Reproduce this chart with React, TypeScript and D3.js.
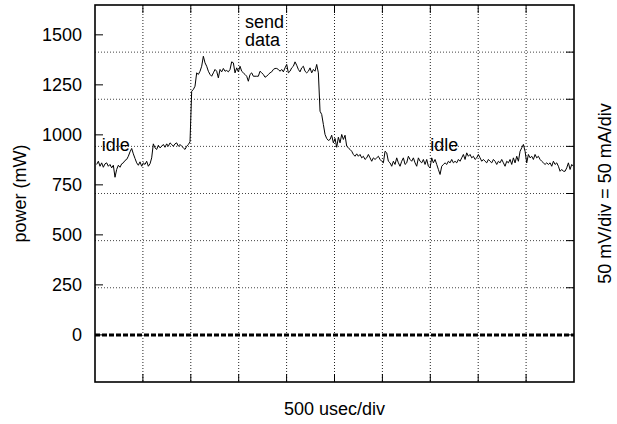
import React from 'react';
import * as d3 from 'd3';

// ---- data ----
const SAMPLE_PERIOD_US = 17.4;
const powerMw: number[] = [
  852, 868, 843, 860, 838, 855, 860, 843, 852, 835,
  848, 788, 827, 848, 838, 855, 860, 872, 877, 893,
  915, 932, 905, 882, 860, 848, 865, 843, 860, 852,
  868, 843, 855, 885, 955, 935, 927, 948, 935, 943,
  952, 938, 955, 943, 960, 952, 943, 955, 960, 943,
  952, 943, 935, 927, 943, 952, 965, 1218, 1227, 1243,
  1310, 1302, 1318, 1343, 1393, 1360, 1343, 1318, 1302, 1293,
  1310,
  1327, 1318, 1285, 1327, 1315, 1332, 1318, 1322, 1315, 1327,
  1365, 1360, 1310, 1335, 1315, 1343, 1318, 1310, 1302, 1293,
  1268, 1302, 1310, 1293, 1293, 1293, 1293, 1318, 1310, 1302,
  1288, 1293, 1302, 1310, 1315, 1327, 1332, 1332, 1327, 1318,
  1327, 1315, 1335, 1352, 1310, 1318, 1335, 1343, 1365, 1348,
  1327, 1315, 1335, 1343, 1318, 1310, 1318, 1335, 1310, 1327,
  1318, 1352, 1310, 1118, 1102, 1052, 1002, 982, 972, 977,
  998, 960, 982, 938, 988, 960,
  1002, 977, 998, 943, 935, 927, 918, 902, 893, 905,
  893, 902, 885, 893, 877, 885, 902, 885, 868, 885,
  877, 885, 893, 877, 868, 860, 918, 910, 868, 860,
  843, 868, 852, 885, 860, 843, 868, 885, 852, 860,
  893, 877, 868, 885, 860, 843, 885, 868, 860, 877,
  852, 877, 843, 835, 885, 860, 877, 852, 827, 802,
  843, 852, 860, 852, 868, 860, 877, 860, 868,
  860, 877, 868, 885, 902, 877, 910, 893, 902, 885,
  893, 877, 885, 902, 885, 868, 877, 868, 860, 877,
  868, 860, 877, 868, 852, 868, 860, 877, 860, 843,
  868, 860, 877, 852, 885, 860, 893, 868, 918, 935,
  952, 918, 860, 902, 885, 893, 877, 902, 885, 893,
  877, 868, 860, 852, 860, 852, 860, 843, 868, 852,
  860, 843, 818, 827, 818, 818, 835, 860, 827, 852,
  843,
];
const timeUs: number[] = powerMw.map((_, i) => (i + 1) * SAMPLE_PERIOD_US);

const yTickValues = [0, 250, 500, 750, 1000, 1250, 1500];
const DIV_US = 500;
const H_DIVS = 10;
const DIV_MW = 235.6;
const V_DIVS_ABOVE = 7;
const V_DIVS_BELOW = 1;

const annotations = [
  { lines: ['send', 'data'], t: 1566, v: 1535 },
  { lines: ['idle'], t: 70, v: 920 },
  { lines: ['idle'], t: 3500, v: 920 },
];
const xLabel = '500 usec/div';
const yLabel = 'power (mW)';
const y2Label = '50 mV/div = 50 mA/div';

const W = 617;
const H = 424;
const L = 95, R = 574, T = 5, B = 382;
const FONT = '"Liberation Sans", Arial, Helvetica, sans-serif';

export default function App() {
  const x = d3.scaleLinear().domain([0, DIV_US * H_DIVS]).range([L, R]);
  const y = d3.scaleLinear().domain([-V_DIVS_BELOW * DIV_MW, V_DIVS_ABOVE * DIV_MW]).range([B, T]);

  const line = d3.line<number>()
    .x((_, i) => x(timeUs[i]))
    .y((d) => y(d));

  const vGrid = d3.range(1, H_DIVS).map((k) => x(k * DIV_US));
  const hGrid = d3.range(1, V_DIVS_ABOVE).map((k) => y(k * DIV_MW));
  const tickLen = 8;

  return (
    <svg width={W} height={H} style={{ position: 'absolute', left: 0, top: 0 }} fontFamily={FONT}>
      <rect x={0} y={0} width={W} height={H} fill="#fff" />
      {/* grid */}
      {vGrid.map((gx, i) => (
        <line key={'vg' + i} x1={gx} x2={gx} y1={T} y2={B} stroke="#222" strokeWidth={1} strokeDasharray="1,2" />
      ))}
      {hGrid.map((gy, i) => (
        <line key={'hg' + i} x1={L} x2={R} y1={gy} y2={gy} stroke="#444" strokeWidth={1} strokeDasharray="1,2" />
      ))}
      {/* zero line */}
      <line x1={L} x2={R} y1={y(0)} y2={y(0)} stroke="#000" strokeWidth={3} strokeDasharray="5,2" />
      {/* ticks */}
      {yTickValues.map((v) => (
        <line key={'lt' + v} x1={L} x2={L + tickLen} y1={y(v)} y2={y(v)} stroke="#000" strokeWidth={1} />
      ))}
      {[0, ...d3.range(1, V_DIVS_ABOVE)].map((k) => (
        <line key={'rt' + k} x1={R} x2={R - tickLen} y1={y(k * DIV_MW)} y2={y(k * DIV_MW)} stroke="#000" strokeWidth={1} />
      ))}
      {vGrid.map((gx, i) => (
        <g key={'xt' + i}>
          <line x1={gx} x2={gx} y1={T} y2={T + tickLen} stroke="#000" strokeWidth={1} />
          <line x1={gx} x2={gx} y1={B} y2={B - tickLen} stroke="#000" strokeWidth={1} />
        </g>
      ))}
      {/* data */}
      <path d={line(powerMw) || ''} fill="none" stroke="#000" strokeWidth={1} />
      {/* border */}
      <rect x={L} y={T} width={R - L} height={B - T} fill="none" stroke="#000" strokeWidth={1.6} />
      {/* tick labels */}
      {yTickValues.map((v) => (
        <text key={'tl' + v} x={82} y={y(v) + 6.3} textAnchor="end" fontSize={18} fill="#000">{v}</text>
      ))}
      {/* annotations */}
      {annotations.map((a, i) => (
        <text key={'an' + i} x={x(a.t)} y={y(a.v)} fontSize={18} fill="#000">
          {a.lines.map((ln, j) => (
            <tspan key={j} x={x(a.t)} dy={j === 0 ? 0 : 18.5}>{ln}</tspan>
          ))}
        </text>
      ))}
      {/* axis labels */}
      <text x={(L + R) / 2} y={415} textAnchor="middle" fontSize={18} fill="#000">{xLabel}</text>
      <text transform={`translate(26,${(T + B) / 2}) rotate(-90)`} textAnchor="middle" fontSize={18} fill="#000">{yLabel}</text>
      <text transform={`translate(611,${(T + B) / 2}) rotate(-90)`} textAnchor="middle" fontSize={18} fill="#000">{y2Label}</text>
    </svg>
  );
}
